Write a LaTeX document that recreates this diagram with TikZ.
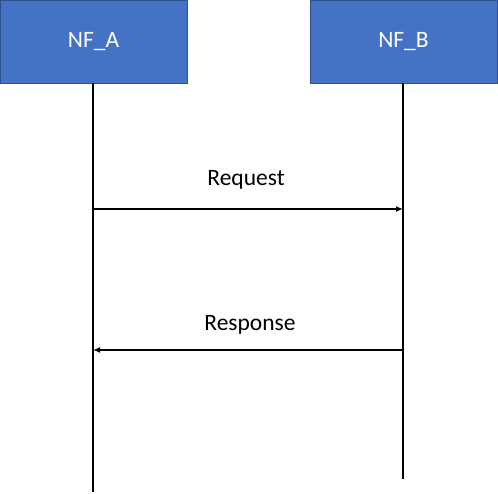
\documentclass[tikz,border=0pt]{standalone}
\usepackage{fontspec}
\setmainfont{Carlito}
\usepackage{tikz}
\usetikzlibrary{arrows.meta}
\definecolor{nfblue}{HTML}{4472C4}
\definecolor{nfedge}{HTML}{2F528F}
\tikzstyle{nfbox} = [rectangle, minimum width=187pt, minimum height=83pt, text centered, draw=nfedge, fill=nfblue, text=white, font=\fontsize{23.5}{28}\selectfont, inner sep=0pt]
\tikzstyle{lifeline} = [line width=1.8pt]
\tikzstyle{msg} = [line width=1.8pt, -{Latex[length=7pt, width=6pt]}]
\tikzstyle{msglabel} = [font=\fontsize{23.5}{28}\selectfont, inner sep=0pt]

\begin{document}
\begin{tikzpicture}[x=1pt, y=-1pt]
    \useasboundingbox (0,0) rectangle (498,493);
    \node (NFA) [nfbox] at (93.5,41.5) {NF\_A};
    \node (NFB) [nfbox] at (403.5,41.5) {NF\_B};
    \coordinate (NFAEnd) at (93,492);
    \coordinate (NFBEnd) at (403,479);
    \draw [lifeline] (93,83) -- (NFAEnd);
    \draw [lifeline] (403,83) -- (NFBEnd);
    \coordinate (ReqStart) at (93,209);
    \coordinate (ReqEnd) at (403,209);
    \coordinate (RespStart) at (403,350);
    \coordinate (RespEnd) at (93,350);
    \draw [msg] (ReqStart) -- (ReqEnd);
    \draw [msg] (RespStart) -- (RespEnd);
    \node (ReqLabel) [msglabel] at (246,180) {Request};
    \node (RespLabel) [msglabel] at (250,325) {Response};
\end{tikzpicture}
\end{document}
